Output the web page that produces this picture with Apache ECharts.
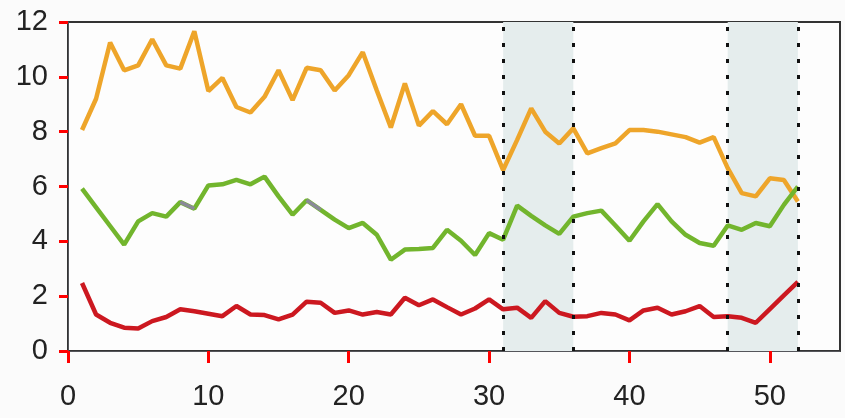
<!DOCTYPE html>
<html><head><meta charset="utf-8">
<script src="https://cdn.jsdelivr.net/npm/echarts@6/dist/echarts.min.js"></script>
<style>html,body{margin:0;padding:0;background:#fbfbfb;}#c{width:845px;height:418px;}</style>
</head><body><div id="c"></div>
<script>
var xs = [1,2,3,4,5,6,7,8,9,10,11,12,13,14,15,16,17,18,19,20,21,22,23,24,25,26,27,28,29,30,31,32,33,34,35,36,37,38,39,40,41,42,43,44,45,46,47,48,49,50,51,52];
var orange = [8.06,9.2,11.25,10.24,10.42,11.37,10.42,10.3,11.66,9.48,9.96,8.9,8.7,9.27,10.24,9.15,10.33,10.24,9.5,10.06,10.9,9.5,8.15,9.76,8.22,8.75,8.27,9.0,7.85,7.85,6.6,7.7,8.85,8.0,7.57,8.12,7.21,7.4,7.57,8.06,8.06,8.0,7.9,7.8,7.6,7.8,6.67,5.76,5.64,6.3,6.24,5.45];
var green = [5.92,5.24,4.56,3.88,4.73,5.03,4.9,5.43,5.19,6.04,6.08,6.24,6.08,6.36,5.64,4.97,5.5,5.15,4.79,4.48,4.67,4.24,3.33,3.7,3.72,3.76,4.42,4.02,3.5,4.3,4.06,5.3,4.93,4.58,4.27,4.9,5.03,5.12,4.58,4.02,4.73,5.36,4.73,4.24,3.94,3.84,4.58,4.42,4.67,4.55,5.33,6.0];
var red = [2.48,1.33,1.03,0.85,0.82,1.09,1.24,1.52,1.45,1.36,1.27,1.64,1.33,1.31,1.15,1.33,1.8,1.76,1.39,1.48,1.33,1.42,1.33,1.94,1.67,1.88,1.6,1.33,1.55,1.88,1.52,1.58,1.21,1.82,1.39,1.25,1.27,1.39,1.33,1.12,1.48,1.58,1.33,1.45,1.64,1.24,1.27,1.21,1.03,1.53,2.03,2.52];
var greyIdx = [[7,8],[16,17]];
var shaded = [[31,36],[47,52]];

function pairs(v){ return xs.map(function(x,i){ return [x, v[i]]; }); }
var greyData = [];
greyIdx.forEach(function(p,k){
  if(k>0) greyData.push([ (xs[p[0]]+xs[greyIdx[k-1][1]])/2, null ]);
  greyData.push([xs[p[0]], green[p[0]]]);
  greyData.push([xs[p[1]], green[p[1]]]);
});
var vlines = [];
shaded.forEach(function(s){ vlines.push({xAxis:s[0]}); vlines.push({xAxis:s[1]}); });

var chart = echarts.init(document.getElementById('c'));
chart.setOption({
  animation:false,
  grid:{left:68,right:5,top:22,bottom:67,show:true,borderColor:'#333',borderWidth:2,backgroundColor:'#fdfdfd'},
  xAxis:{type:'value',min:0,max:55,interval:10,
    axisTick:{show:true,length:12,lineStyle:{color:'#f00',width:3}},
    axisLabel:{color:'#222',fontSize:29,fontFamily:'Liberation Sans',margin:31,showMaxLabel:false},
    splitLine:{show:false}},
  yAxis:{type:'value',min:0,max:12,interval:2,
    axisTick:{show:true,length:9,lineStyle:{color:'#f00',width:3}},
    axisLabel:{color:'#222',fontSize:29,fontFamily:'Liberation Sans',margin:20},
    splitLine:{show:false}},
  series:[
    {type:'line',data:pairs(orange),symbol:'none',lineStyle:{color:'#eea52a',width:4.5},z:3,
     markArea:{silent:true,itemStyle:{color:'#e5eded'},data:shaded.map(function(s){return [{xAxis:s[0]},{xAxis:s[1]}];})},
     markLine:{silent:true,symbol:'none',label:{show:false},lineStyle:{color:'#111',type:[4,12],width:3},data:vlines}},
    {type:'line',data:pairs(green),symbol:'none',lineStyle:{color:'#72b52d',width:4.5},z:3},
    {type:'line',data:greyData,symbol:'none',connectNulls:false,lineStyle:{color:'#8a8a98',width:3.5},z:4},
    {type:'line',data:pairs(red),symbol:'none',lineStyle:{color:'#cc1820',width:4.5},z:3}
  ]
});
</script></body></html>
